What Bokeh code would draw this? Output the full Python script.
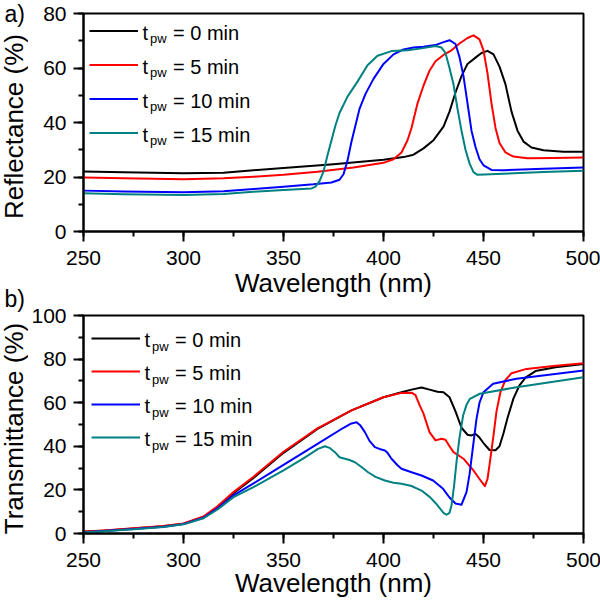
import math
from bokeh.plotting import figure
from bokeh.models import Range1d, SingleIntervalTicker, Legend, LegendItem, Label
from bokeh.layouts import column, row
from bokeh.embed import file_html
from bokeh.resources import INLINE

# ---------------- data ----------------
series_names = ["0", "5", "10", "15"]
colors = ["#000000", "#ff0000", "#0000ff", "#008080"]

# (a) Reflectance (%)
wl_r0 = [250, 270, 300, 320, 335, 350, 375, 400, 410, 415, 420, 425, 430, 433, 436, 439, 442, 446, 449, 452, 455, 458, 461, 464, 467, 470, 474, 480, 490, 500]
refl_0 = [22.0, 21.7, 21.4, 21.6, 22.5, 23.3, 24.7, 26.3, 27.3, 28.2, 30.5, 33.5, 38.5, 44.0, 51.0, 57.0, 61.5, 63.8, 65.5, 66.3, 65.0, 60.5, 54.0, 44.0, 37.0, 33.0, 30.8, 29.8, 29.3, 29.3]

wl_r5 = [250, 270, 300, 320, 335, 350, 367, 385, 400, 405, 409, 412, 414, 415, 417, 420, 423, 426, 430, 434, 438, 442, 445, 448, 450, 452, 454, 456, 458, 461, 465, 472, 485, 500]
refl_5 = [19.8, 19.5, 19.2, 19.5, 20.1, 20.8, 21.9, 23.5, 25.2, 26.5, 29.0, 33.5, 38.0, 41.0, 47.0, 53.5, 59.0, 62.5, 64.8, 66.5, 69.0, 71.0, 72.0, 70.5, 66.5, 58.0, 47.0, 38.0, 32.5, 29.0, 27.5, 26.9, 27.0, 27.2]

wl_r10 = [250, 270, 300, 320, 335, 350, 365, 374, 378, 380, 382, 384, 386, 388, 391, 395, 400, 405, 410, 415, 420, 426, 430, 433, 436, 438, 440, 442, 444, 446, 448, 450, 454, 460, 480, 500]
refl_10 = [15.0, 14.7, 14.4, 14.8, 15.6, 16.4, 17.3, 18.0, 19.0, 21.0, 26.0, 33.0, 39.0, 45.0, 50.5, 56.0, 61.5, 65.0, 66.8, 67.5, 67.8, 68.4, 69.5, 70.2, 68.8, 64.0, 57.0, 47.0, 37.0, 31.0, 26.5, 24.3, 22.6, 22.5, 23.0, 23.5]

wl_r15 = [250, 270, 300, 320, 335, 350, 364, 366, 368, 370, 372, 374, 376, 378, 382, 387, 392, 397, 404, 412, 419, 426, 429, 431, 433, 435, 437, 439, 441, 443, 445, 447, 460, 480, 500]
refl_15 = [14.0, 13.7, 13.4, 13.8, 14.6, 15.2, 15.8, 16.5, 18.5, 22.0, 28.0, 33.5, 39.0, 43.5, 49.5, 55.0, 61.0, 64.5, 66.2, 66.5, 67.2, 68.1, 67.5, 65.5, 60.0, 54.0, 45.0, 37.0, 30.0, 25.0, 21.8, 20.8, 21.2, 21.8, 22.3]

# (b) Transmittance (%)
wl_t0 = [250, 260, 275, 290, 300, 310, 317, 325, 335, 350, 367, 384, 400, 409, 414, 419, 423, 427, 430, 433, 436, 439, 442, 444, 446, 448, 450, 453, 456, 458, 460, 462, 465, 468, 471, 476, 486, 500]
trans_0 = [0.8, 1.3, 2.3, 3.3, 4.5, 7.5, 12.0, 18.5, 25.5, 37.0, 48.0, 56.5, 62.5, 64.8, 66.0, 67.0, 66.0, 65.0, 64.8, 62.5, 56.0, 48.5, 45.3, 45.0, 45.7, 44.0, 41.5, 38.3, 38.2, 40.0, 46.0, 53.0, 62.0, 68.0, 71.5, 74.5, 76.3, 77.8]

wl_t5 = [250, 260, 275, 290, 300, 310, 317, 325, 335, 350, 367, 384, 400, 409, 414, 416, 418, 420, 423, 426, 429, 431, 433, 435, 440, 443, 445, 448, 450.7, 452, 453.2, 455, 456.5, 458.5, 461, 464, 471.5, 485, 500]
trans_5 = [0.9, 1.4, 2.4, 3.4, 4.6, 7.8, 12.5, 19.0, 26.0, 37.5, 48.2, 56.5, 62.5, 64.5, 64.6, 63.5, 59.0, 55.0, 46.5, 42.7, 43.5, 43.0, 40.0, 37.3, 34.3, 31.0, 28.9, 25.0, 21.7, 25.0, 32.7, 45.0, 56.0, 65.0, 70.5, 73.5, 75.5, 76.8, 78.1]

wl_t10 = [250, 260, 275, 290, 300, 310, 317, 325, 335, 350, 367, 380, 384, 386.5, 388.5, 390.7, 393, 395.7, 398, 400.7, 402, 404, 407, 409, 414, 419, 424.8, 429.8, 433, 436, 439, 441.5, 443, 444.5, 446.5, 448, 450, 454.8, 466.5, 500]
trans_10 = [0.6, 1.1, 2.1, 3.1, 4.3, 7.2, 11.5, 17.5, 23.0, 31.5, 41.1, 48.5, 50.5, 51.0, 49.5, 46.5, 42.5, 39.6, 38.8, 38.1, 37.0, 34.3, 31.3, 29.7, 28.1, 26.6, 24.3, 20.5, 16.5, 13.8, 13.2, 19.0, 27.0, 38.0, 52.6, 60.0, 64.8, 68.7, 71.0, 74.8]

wl_t15 = [250, 260, 275, 290, 300, 310, 317, 325, 335, 350, 360, 367.3, 370.7, 373, 375.7, 378, 380.7, 383, 385.7, 389, 392.3, 396, 400.7, 405, 409, 414, 419, 423.2, 426, 428.2, 430, 431.5, 433, 434, 435.3, 436.5, 438, 439.8, 441.5, 443.2, 448.2, 466.5, 500]
trans_15 = [0.5, 1.0, 2.0, 3.0, 4.2, 7.0, 11.0, 16.7, 21.3, 29.0, 34.5, 38.8, 40.0, 39.3, 37.3, 35.0, 34.3, 33.7, 32.7, 30.5, 28.1, 26.0, 24.3, 23.3, 22.8, 21.8, 19.7, 16.7, 14.0, 11.5, 9.5, 8.6, 9.5, 12.8, 22.0, 32.7, 44.0, 54.1, 59.0, 61.8, 64.1, 67.1, 71.7]

x_start, x_end = 250, 500
x_label = "Wavelength (nm)"
y_labels = ["Reflectance (%)", "Transmittance (%)"]
panel_tags = ["a)", "b)"]

FONT = "Liberation Sans"
STRIP_W = 28
BL, BR = 53, 19
TOP1, BOT1, TOP2, BOT2 = 13, 72, 12, 70
FRAME_W, FRAME_H = 500, 218
TOTAL_H = TOP1 + FRAME_H + BOT1 + TOP2 + FRAME_H + BOT2


def make_panel(xs, ys, y_max, b_top, b_bottom, leg_pad, leg_row, leg_spacing, xlab_standoff):
    p = figure(frame_width=FRAME_W, frame_height=FRAME_H,
               x_range=Range1d(x_start, x_end), y_range=Range1d(0, y_max),
               output_backend="svg", toolbar_location=None, title=None,
               min_border_left=BL, min_border_right=BR, min_border_top=b_top, min_border_bottom=b_bottom)
    p.background_fill_color = "white"
    p.border_fill_color = "white"
    p.outline_line_color = "black"
    p.outline_line_width = 2
    p.xgrid.visible = False
    p.ygrid.visible = False

    p.xaxis.ticker = SingleIntervalTicker(interval=50, num_minor_ticks=2)
    p.yaxis.ticker = SingleIntervalTicker(interval=20, num_minor_ticks=2)
    p.xaxis.axis_label = x_label
    for ax, st in ((p.xaxis, 9), (p.yaxis, 7)):
        ax.axis_line_width = 2
        ax.axis_line_color = "black"
        ax.major_tick_line_width = 2
        ax.minor_tick_line_width = 2
        ax.major_tick_in = 0
        ax.major_tick_out = 10
        ax.minor_tick_in = 0
        ax.minor_tick_out = 5
        ax.major_label_text_font = FONT
        ax.major_label_text_font_size = "21px"
        ax.major_label_text_color = "black"
        ax.major_label_standoff = st
    p.xaxis.axis_label_text_font = FONT
    p.xaxis.axis_label_text_font_size = "26px"
    p.xaxis.axis_label_text_font_style = "normal"
    p.xaxis.axis_label_text_color = "black"
    p.xaxis.axis_label_standoff = xlab_standoff

    rends = []
    for x, y, c in zip(xs, ys, colors):
        rends.append(p.line(x, y, line_color=c, line_width=2, line_join="round"))

    legend = Legend(items=[LegendItem(label="t = %s min" % n, renderers=[r]) for n, r in zip(series_names, rends)],
                    location="top_left", margin=0, padding=leg_pad,
                    glyph_width=49, glyph_height=leg_row, label_height=leg_row, spacing=leg_spacing,
                    border_line_alpha=0, background_fill_alpha=0,
                    label_text_alpha=0, label_text_font_size="8px")
    p.add_layout(legend)

    # legend texts with subscript (anchored at the text's middle line)
    for i, n in enumerate(series_names):
        c = leg_pad + leg_row / 2 + i * (leg_row + leg_spacing)
        g = leg_pad
        p.add_layout(Label(x=x_start, y=y_max, x_offset=g + 53, y_offset=-(c + 1.8), text="t",
                           text_font=FONT, text_font_size="20px", text_baseline="middle", text_color="black"))
        p.add_layout(Label(x=x_start, y=y_max, x_offset=g + 60.5, y_offset=-(c + 7.5), text="pw",
                           text_font=FONT, text_font_size="13px", text_baseline="middle", text_color="black"))
        p.add_layout(Label(x=x_start, y=y_max, x_offset=g + 83.5, y_offset=-(c + 1.8), text="= %s min" % n,
                           text_font=FONT, text_font_size="20px", text_baseline="middle", text_color="black"))
    return p


p1 = make_panel([wl_r0, wl_r5, wl_r10, wl_r15], [refl_0, refl_5, refl_10, refl_15], 80,
                TOP1, BOT1, 6, 23, 11, 0)
p2 = make_panel([wl_t0, wl_t5, wl_t10, wl_t15], [trans_0, trans_5, trans_10, trans_15], 100,
                TOP2, BOT2, 8, 30, 3, -2)

# left strip holding the panel tags and the rotated y-axis titles (pixel coordinates, y downwards)
strip = figure(frame_width=STRIP_W, frame_height=TOTAL_H, x_range=Range1d(0, STRIP_W), y_range=Range1d(TOTAL_H, 0),
               x_axis_type=None, y_axis_type=None, output_backend="svg", toolbar_location=None, title=None,
               min_border_left=0, min_border_right=0, min_border_top=0, min_border_bottom=0)
strip.outline_line_color = None
strip.border_fill_color = "white"
strip.background_fill_color = "white"

frame1_mid = TOP1 + FRAME_H / 2
frame2_mid = TOP1 + FRAME_H + BOT1 + TOP2 + FRAME_H / 2
strip.add_layout(Label(x=4, y=13, text=panel_tags[0], text_font=FONT, text_font_size="23px",
                       text_baseline="middle", text_color="black"))
strip.add_layout(Label(x=4, y=298, text=panel_tags[1], text_font=FONT, text_font_size="23px",
                       text_baseline="middle", text_color="black"))
strip.add_layout(Label(x=13, y=frame1_mid + 4, text=y_labels[0], angle=math.pi / 2, text_font=FONT,
                       text_font_size="26px", text_align="center", text_baseline="middle", text_color="black"))
strip.add_layout(Label(x=13, y=frame2_mid + 4, text=y_labels[1], angle=math.pi / 2, text_font=FONT,
                       text_font_size="26px", text_align="center", text_baseline="middle", text_color="black"))

layout = row(strip, column(p1, p2, spacing=0), spacing=0)
open("out.html", "w").write(file_html(layout, INLINE))
